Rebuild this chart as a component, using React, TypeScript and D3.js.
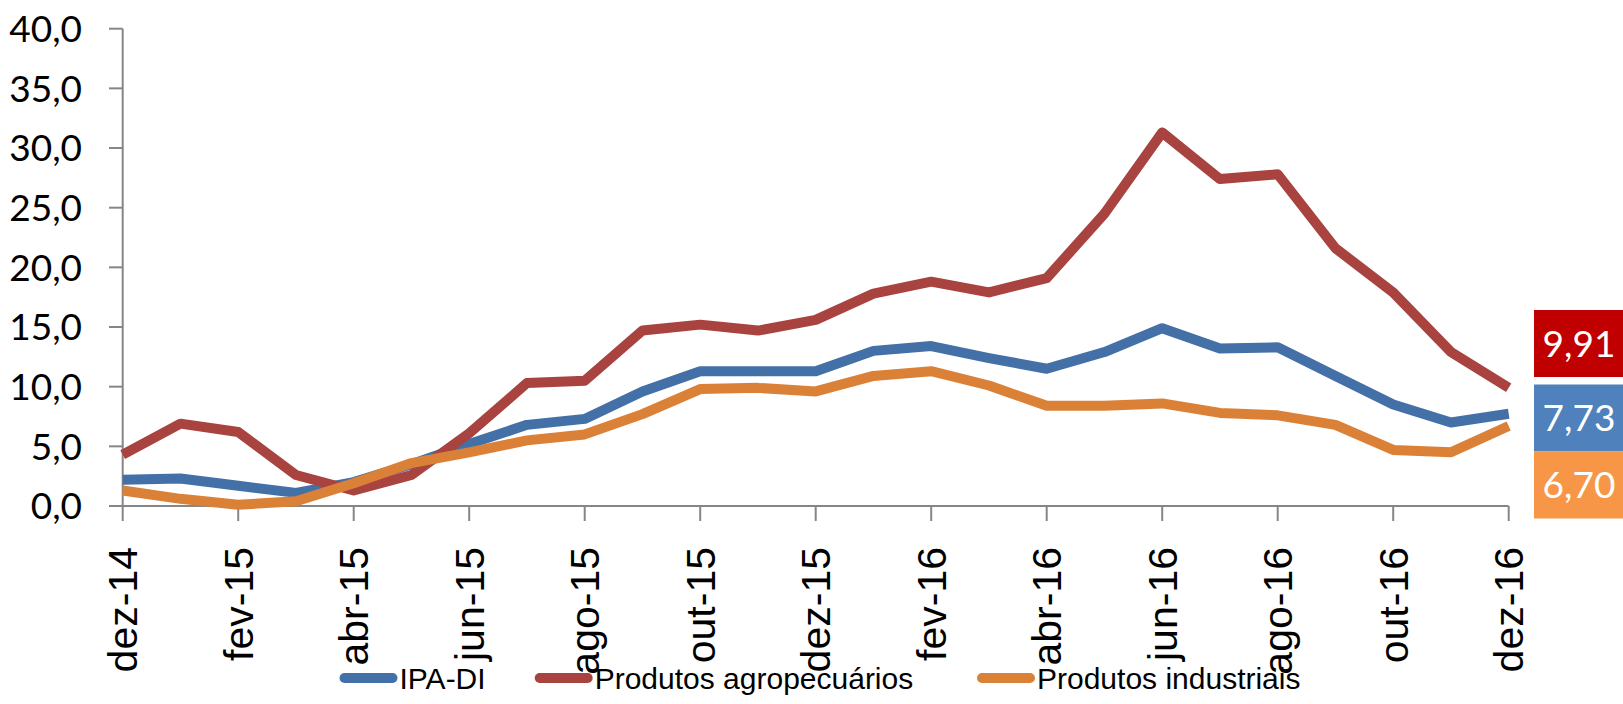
import React, { useRef, useEffect } from 'react';
import * as d3 from 'd3';

const months = [
  'dez-14', 'jan-15', 'fev-15', 'mar-15', 'abr-15', 'mai-15', 'jun-15', 'jul-15', 'ago-15',
  'set-15', 'out-15', 'nov-15', 'dez-15', 'jan-16', 'fev-16', 'mar-16', 'abr-16', 'mai-16',
  'jun-16', 'jul-16', 'ago-16', 'set-16', 'out-16', 'nov-16', 'dez-16',
];

const ipaDi = [
  2.2, 2.3, 1.7, 1.1, 2.0, 3.5, 5.2, 6.8, 7.3, 9.6, 11.3, 11.3, 11.3,
  13.0, 13.4, 12.4, 11.5, 12.9, 14.9, 13.2, 13.3, 10.9, 8.5, 7.0, 7.73,
];
const agro = [
  4.3, 6.9, 6.2, 2.6, 1.3, 2.6, 6.1, 10.3, 10.5, 14.7, 15.2, 14.7, 15.6,
  17.8, 18.8, 17.9, 19.1, 24.5, 31.3, 27.4, 27.8, 21.6, 17.9, 12.9, 9.91,
];
const industriais = [
  1.3, 0.6, 0.1, 0.4, 1.9, 3.6, 4.5, 5.5, 6.0, 7.7, 9.8, 9.9, 9.6,
  10.9, 11.3, 10.1, 8.4, 8.4, 8.6, 7.8, 7.6, 6.8, 4.7, 4.5, 6.70,
];

const seriesNames = ['IPA-DI', 'Produtos agropecuários', 'Produtos industriais'];
const yTicks = [0, 5, 10, 15, 20, 25, 30, 35, 40];

const W = 1623;
const H = 704;

const App: React.FC = () => {
  const svgRef = useRef<SVGSVGElement>(null);

  useEffect(() => {
    if (!svgRef.current) return;
    const svg = d3.select(svgRef.current);
    svg.selectAll('*').remove();

    const x = d3.scalePoint<string>().domain(months).range([122.7, 1508.7]);
    const y = d3.scaleLinear().domain([0, 40]).range([506, 28.7]);
    const fmt = (v: number) => d3.format('.1f')(v).replace('.', ',');
    const fmt2 = (v: number) => d3.format('.2f')(v).replace('.', ',');
    const axisColor = '#868686';

    // y axis
    svg.append('line')
      .attr('x1', 122.7).attr('x2', 122.7)
      .attr('y1', y(40)).attr('y2', y(0))
      .attr('stroke', axisColor).attr('stroke-width', 2);
    svg.selectAll('.ytick')
      .data(yTicks)
      .enter().append('line')
      .attr('x1', 109).attr('x2', 122.7)
      .attr('y1', d => y(d)).attr('y2', d => y(d))
      .attr('stroke', axisColor).attr('stroke-width', 2);
    svg.selectAll('.ylab')
      .data(yTicks)
      .enter().append('text')
      .attr('x', 82).attr('y', d => y(d))
      .attr('dy', '0.36em')
      .attr('text-anchor', 'end')
      .attr('font-family', 'Lato, "Open Sans", sans-serif')
      .attr('font-size', 37)
      .attr('fill', '#000')
      .text(d => fmt(d));

    // x axis
    svg.append('line')
      .attr('x1', 122.7).attr('x2', 1508.7)
      .attr('y1', 506).attr('y2', 506)
      .attr('stroke', axisColor).attr('stroke-width', 2);
    const tickMonths = months.filter((_, i) => i % 2 === 0);
    svg.selectAll('.xtick')
      .data(tickMonths)
      .enter().append('line')
      .attr('x1', d => x(d)!).attr('x2', d => x(d)!)
      .attr('y1', 506).attr('y2', 521)
      .attr('stroke', axisColor).attr('stroke-width', 2);
    svg.selectAll('.xlab')
      .data(tickMonths)
      .enter().append('text')
      .attr('transform', d => `translate(${x(d)},547) rotate(-90)`)
      .attr('dy', '0.36em')
      .attr('text-anchor', 'end')
      .attr('font-family', '"Liberation Sans", Arial, sans-serif')
      .attr('font-size', 41)
      .attr('fill', '#000')
      .text(d => d);

    // lines
    const data = [ipaDi, agro, industriais];
    const colors = ['#4470A8', '#A9433F', '#DB8137'];
    const line = d3.line<number>()
      .x((_, i) => x(months[i])!)
      .y(d => y(d));
    const order = [0, 1, 2];
    order.forEach(k => {
      svg.append('path')
        .attr('d', line(data[k])!)
        .attr('fill', 'none')
        .attr('stroke', colors[k])
        .attr('stroke-width', 10)
        .attr('stroke-linejoin', 'round');
    });

    // end value boxes
    const boxes = [
      { v: agro[agro.length - 1], fill: '#C00000', y0: 310 },
      { v: ipaDi[ipaDi.length - 1], fill: '#4F81BD', y0: 384.5 },
      { v: industriais[industriais.length - 1], fill: '#F79646', y0: 451.5 },
    ];
    const bg = svg.selectAll('.box').data(boxes).enter().append('g');
    bg.append('rect')
      .attr('x', 1534).attr('y', d => d.y0)
      .attr('width', 95).attr('height', 67)
      .attr('fill', d => d.fill);
    bg.append('text')
      .attr('x', 1579).attr('y', d => d.y0 + 33.5)
      .attr('dy', '0.36em')
      .attr('text-anchor', 'middle')
      .attr('font-family', 'Lato, "Open Sans", sans-serif')
      .attr('font-size', 37)
      .attr('fill', '#fff')
      .text(d => fmt2(d.v));

    // legend
    const legendX = [339.5, 534.7, 977];
    const lg = svg.selectAll('.leg').data(seriesNames).enter().append('g');
    lg.append('line')
      .attr('x1', (_, i) => legendX[i] + 5).attr('x2', (_, i) => legendX[i] + 53)
      .attr('y1', 678).attr('y2', 678)
      .attr('stroke', (_, i) => colors[i])
      .attr('stroke-width', 10)
      .attr('stroke-linecap', 'round');
    lg.append('text')
      .attr('x', (_, i) => legendX[i] + 60)
      .attr('y', 678)
      .attr('dy', '0.36em')
      .attr('font-family', '"Liberation Sans", Arial, sans-serif')
      .attr('font-size', 30)
      .attr('fill', '#000')
      .text(d => d);
  }, []);

  return (
    <div>
      <svg ref={svgRef} width={W} height={H}
        style={{ position: 'absolute', left: 0, top: 0, background: '#fff' }} />
    </div>
  );
};

export default App;
